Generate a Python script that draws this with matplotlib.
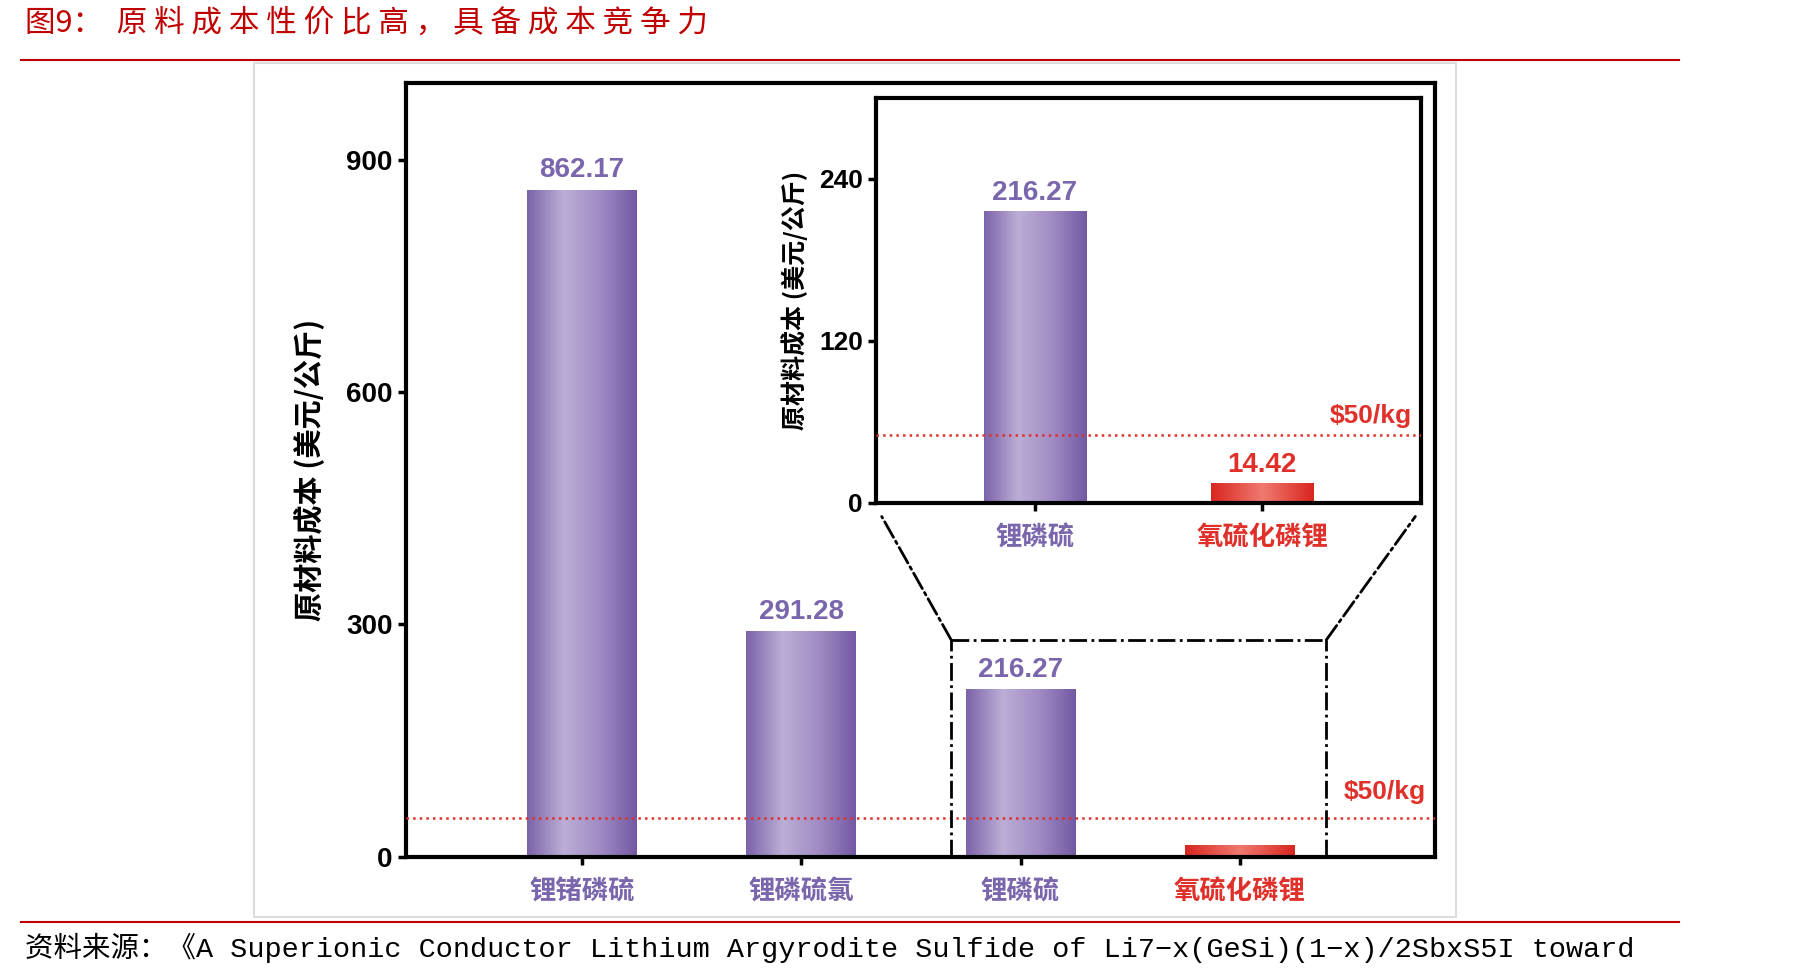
import matplotlib
matplotlib.use("Agg")
import matplotlib.pyplot as plt
import numpy as np
from matplotlib.colors import LinearSegmentedColormap
from matplotlib.patches import ConnectionPatch, Rectangle

plt.rcParams['font.family'] = ['Noto Sans CJK SC', 'DejaVu Sans']

categories = ['锂锗磷硫', '锂磷硫氯', '锂磷硫', '氧硫化磷锂']
values = [862.17, 291.28, 216.27, 14.42]
inset_categories = ['锂磷硫', '氧硫化磷锂']
inset_values = [216.27, 14.42]
main_ticks = [0, 300, 600, 900]
inset_ticks = [0, 120, 240]
threshold = 50

PURPLE = '#7a66ac'
RED = '#e0302a'
purple_cmap = LinearSegmentedColormap.from_list('p', ['#7b63a9', '#bcaed6', '#a08bc4', '#7359a3'])
red_cmap = LinearSegmentedColormap.from_list('r', ['#d8261f', '#f07a70', '#d8261f'])

fig = plt.figure(figsize=(17.98, 9.73), dpi=100)

fig.add_artist(Rectangle((0.141, 0.058), 0.669, 0.877, transform=fig.transFigure,
                         facecolor='none', edgecolor='#dddddd', lw=1.5, zorder=-5))
fig.text(0.014, 0.976, '图9：  原 料 成 本 性 价 比 高 ， 具 备 成 本 竞 争 力', color='#c00000', fontsize=22, va='center')
fig.add_artist(plt.Line2D([0.0115, 0.934], [0.938, 0.938], color='#c00000', lw=1.5))
fig.add_artist(plt.Line2D([0.0115, 0.934], [0.052, 0.052], color='#c00000', lw=1.5))
fig.text(0.014, 0.026, '资料来源：《A Superionic Conductor Lithium Argyrodite Sulfide of Li7−x(GeSi)(1−x)/2SbxS5I toward',
         fontsize=20.5, va='center', family=['Liberation Mono', 'Noto Sans CJK SC'])


def grad_bars(ax, xs, vals, width, colors):
    bars = ax.bar(xs, vals, width=width, color='none', edgecolor='none')
    grad = np.linspace(0, 1, 256).reshape(1, -1)
    for b, c in zip(bars, colors):
        x0, y0, w, h = b.get_x(), b.get_y(), b.get_width(), b.get_height()
        im = ax.imshow(grad, extent=[x0, x0 + w, y0, y0 + h], cmap=c, aspect='auto', zorder=2)
        im.set_clip_path(b)
    return bars


def style(ax):
    for s in ax.spines.values():
        s.set_linewidth(3)
    ax.tick_params(width=2.5, length=6)


ax = fig.add_axes([0.2256, 0.1197, 0.5724, 0.795])
xs = np.arange(len(categories))
cmaps = [purple_cmap, purple_cmap, purple_cmap, red_cmap]
grad_bars(ax, xs, values, 0.5, cmaps)
ax.set_xlim(-0.805, 3.89)
ax.set_ylim(0, 1000)
ax.set_yticks(main_ticks)
ax.set_yticklabels([str(t) for t in main_ticks], fontsize=20, fontweight='bold', family='Liberation Sans')
ax.set_xticks(xs)
ax.set_xticklabels(categories, fontsize=19, fontweight='bold')
for lbl, c in zip(ax.get_xticklabels(), [PURPLE, PURPLE, PURPLE, RED]):
    lbl.set_color(c)
ax.tick_params(axis='x', length=0, pad=10)
style(ax)
ax.set_ylabel('原材料成本 (美元/公斤)', fontsize=21, fontweight='bold', labelpad=15)
for x, v, c in zip(xs[:3], values[:3], [PURPLE] * 3):
    ax.text(x, v + 8, f'{v:.2f}', ha='center', va='bottom', fontsize=20, fontweight='bold', color=c,
            family='Liberation Sans')
ax.axhline(threshold, color=RED, ls=':', lw=1.8, zorder=3)
ax.text(3.85, threshold + 18, '$50/kg', ha='right', va='bottom', fontsize=19, fontweight='bold', color=RED,
        family='Liberation Sans')
bx0, bx1, by = 1.684, 3.395, 280
ax.plot([bx0, bx1], [by, by], 'k-.', lw=2, zorder=4)
ax.plot([bx0, bx0], [0, by], 'k-.', lw=2, zorder=4)
ax.plot([bx1, bx1], [0, by], 'k-.', lw=2, zorder=4)

ia = fig.add_axes([0.4872, 0.4834, 0.3032, 0.4159])
ixs = np.arange(len(inset_categories))
grad_bars(ia, ixs, inset_values, 0.45, [purple_cmap, red_cmap])
ia.set_xlim(-0.70, 1.70)
ia.set_ylim(0, 300)
ia.set_yticks(inset_ticks)
ia.set_yticklabels([str(t) for t in inset_ticks], fontsize=19, fontweight='bold', family='Liberation Sans')
ia.set_xticks(ixs)
ia.set_xticklabels(inset_categories, fontsize=19, fontweight='bold')
for lbl, c in zip(ia.get_xticklabels(), [PURPLE, RED]):
    lbl.set_color(c)
ia.tick_params(axis='x', length=0, pad=10)
style(ia)
ia.set_ylabel('原材料成本 (美元/公斤)', fontsize=18, fontweight='bold', labelpad=8)
for x, v, c in zip(ixs, inset_values, [PURPLE, RED]):
    ia.text(x, v + 4, f'{v:.2f}', ha='center', va='bottom', fontsize=20, fontweight='bold', color=c,
            family='Liberation Sans')
ia.axhline(threshold, color=RED, ls=':', lw=1.8, zorder=3)
ia.text(1.66, threshold + 5, '$50/kg', ha='right', va='bottom', fontsize=19, fontweight='bold', color=RED,
        family='Liberation Sans')

for (bx, fx) in [(bx0, 765 / 1560), (bx1, 1228 / 1560)]:
    cp = ConnectionPatch(xyA=(bx, by), coordsA=ax.transData, xyB=(fx, 1 - 448 / 844),
                         coordsB=fig.transFigure, ls='-.', lw=2, color='k')
    fig.add_artist(cp)

fig.savefig('out.png', dpi=100)
